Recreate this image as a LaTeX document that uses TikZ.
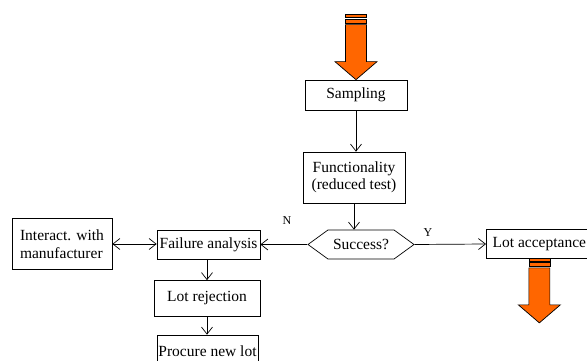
\documentclass[tikz,border=0pt]{standalone}
\usepackage{fontspec}
\setmainfont{Liberation Serif}
\usetikzlibrary{arrows.meta}
\usetikzlibrary{shapes.symbols}
\definecolor{flow}{HTML}{FF6600}
\tikzstyle{box}=[draw, fill=white, inner sep=1pt, align=center]
\tikzstyle{flowline}=[draw, -{Straight Barb[length=7pt, width=11pt]}]

\begin{document}
\begin{tikzpicture}[x=1pt, y=1pt, line width=.7pt,
                      font=\fontsize{15.5}{17.5}\selectfont,
                      tag/.style={font=\fontsize{12}{14}\selectfont},
                      feed/.pic={
                        \filldraw[fill=flow] (0,0) -- (-21,18) -- (-10.5,18) -- (-10.5,55)
                          -- (10.5,55) -- (10.5,18) -- (21,18) -- cycle;
                        \filldraw[fill=flow] (-10.5,56.5) rectangle (10.5,60.5);
                        \filldraw[fill=flow] (-10.5,62) rectangle (10.5,65);
                      }]
    \useasboundingbox (0,0) rectangle (587,-361);
    \node[box, minimum width=102, minimum height=30] (sampling) at (356,-95) {Sampling};
    \node[box, minimum width=102, minimum height=51] (func) at (354,-177.5) {Functionality\\(reduced test)};
    \node[draw, fill=white, signal, signal to=west and east, signal pointer angle=72,
          minimum width=106, minimum height=29, inner sep=1pt] (success) at (361,-244.5) {Success?};
    \node[box, minimum width=103, minimum height=29] (failure) at (208.5,-244.5) {Failure analysis};
    \node[box, minimum width=100, minimum height=51, align=left] (interact) at (62,-244) {Interact. with\\manufacturer};
    \node[box, minimum width=106, minimum height=36] (reject) at (207,-298.5) {Lot rejection};
    \node[box, minimum width=101, minimum height=32] (procure) at (207.5,-351) {Procure new lot};
    \node[box, minimum width=106, minimum height=29, anchor=west] (accept) at (486,-244) {Lot acceptance};
    \pic at (sampling.north) {feed};
    \pic at ([yshift=-64]accept.south) {feed};
    \node[tag] (no) at (287,-221) {N};
    \node[tag] (yes) at (428,-233) {Y};
    \draw[flowline] (sampling.south) -- (sampling.south |- func.north);
    \draw[flowline] (func.south) -- (func.south |- success.north);
    \draw[flowline] (success.west) -- (failure.east);
    \draw[flowline] (success.east) -- (accept.west);
    \draw[{Straight Barb[length=7pt, width=11pt]}-{Straight Barb[length=7pt, width=11pt]}]
      (interact.east) -- (interact.east -| failure.west);
    \draw[flowline] (reject.north |- failure.south) -- (reject.north);
    \draw[flowline] (reject.south) -- (reject.south |- procure.north);
\end{tikzpicture}
\end{document}
